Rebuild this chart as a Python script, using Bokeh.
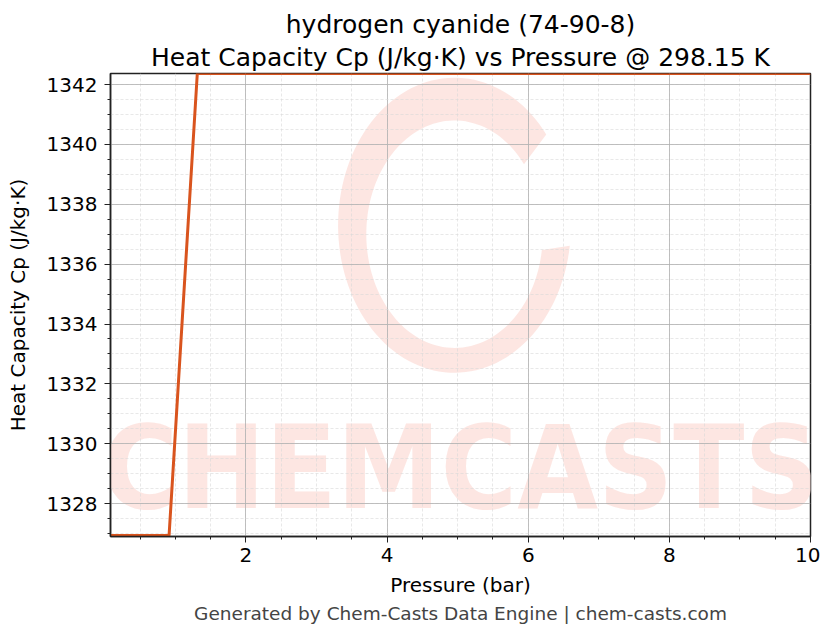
import numpy as np
from bokeh.plotting import figure
from bokeh.models import Title, Label, Range1d, SingleIntervalTicker
from bokeh.embed import file_html
from bokeh.resources import INLINE

# pressure (bar) and Cp (J/kg.K)
pressure = [0.08, 0.5, 0.91, 1.31, 2.0, 4.0, 6.0, 8.0, 10.0]
cp = [1326.93, 1326.93, 1326.93, 1342.37, 1342.37, 1342.37, 1342.37, 1342.37, 1342.37]

title_lines = ["hydrogen cyanide (74-90-8)",
               "Heat Capacity Cp (J/kg·K) vs Pressure @ 298.15 K"]
footer = "Generated by Chem-Casts Data Engine | chem-casts.com"

FONT = "DejaVu Sans"
WM = "#fde3df"

p = figure(
    width=820, height=628,
    output_backend="svg", toolbar_location=None,
    x_range=Range1d(0.08, 10.0), y_range=Range1d(1326.9, 1342.37),
    min_border_left=110, min_border_right=10,
    min_border_top=73, min_border_bottom=92,
    background_fill_color="white", border_fill_color="white",
)

# watermark: swirl ring (ellipse-shaped in screen space) + CHEMCASTS text
t = np.radians(np.linspace(38, 352, 120))
cx, cy = 4.955, 1337.3
ox, oy = 1.65, 4.93
ix, iy = 1.25, 3.8
ring_x = np.concatenate([cx + ox * np.cos(t), (cx + ix * np.cos(t))[::-1]])
ring_y = np.concatenate([cy + oy * np.sin(t), (cy - 0.3 + iy * np.sin(t))[::-1]])
ring = p.patch(ring_x, ring_y, fill_color=WM, line_color=None, fill_alpha=0.9)
ring.level = "image"

wm = Label(x=5.04, y=1326.95, text="CHEMCASTS", text_align="center",
           text_baseline="bottom", text_font="DejaVu Sans Condensed",
           text_font_style="bold", text_font_size="116px",
           text_color=WM, text_alpha=0.9, level="image")
p.add_layout(wm)

p.line(pressure, cp, line_color="#d9541e", line_width=3)

# title: second line is closest to the plot
for i, line in enumerate(reversed(title_lines)):
    p.add_layout(Title(text=line, align="center", text_font=FONT,
                       text_font_size="25px", text_font_style="normal",
                       text_color="black", standoff=0 if i else 4,
                       offset=0, text_line_height=1.0), "above")
p.add_layout(Title(text=footer, align="center", text_font=FONT,
                   text_font_size="18.5px", text_font_style="normal",
                   text_color="#444444", standoff=2), "below")

p.xaxis.axis_label = "Pressure (bar)"
p.yaxis.axis_label = "Heat Capacity Cp (J/kg·K)"
p.xaxis.ticker = SingleIntervalTicker(interval=2, num_minor_ticks=4)
p.yaxis.ticker = SingleIntervalTicker(interval=2, num_minor_ticks=4)
for ax in (p.xaxis, p.yaxis):
    ax.axis_label_text_font = FONT
    ax.axis_label_text_font_size = "20px"
    ax.axis_label_text_font_style = "normal"
    ax.axis_label_text_color = "black"
    ax.axis_label_standoff = 8
    ax.major_label_text_font = FONT
    ax.major_label_text_font_size = "20px"
    ax.major_label_text_color = "black"
    ax.major_label_standoff = 5
    ax.axis_line_width = 1.5
    ax.axis_line_color = "#222222"
    ax.major_tick_line_color = "#222222"
    ax.minor_tick_line_color = "#222222"
    ax.major_tick_out = 6
    ax.major_tick_in = 0
    ax.minor_tick_out = 3
    ax.minor_tick_in = 0
p.yaxis.axis_label_standoff = 14
p.yaxis.major_label_standoff = 7

p.grid.grid_line_color = "#b0b0b0"
p.grid.grid_line_width = 0.8
p.grid.minor_grid_line_color = "#d8d8d8"
p.grid.minor_grid_line_dash = "3 2"
p.grid.minor_grid_line_width = 0.6
p.outline_line_color = "#222222"
p.outline_line_width = 1.5

open("out.html", "w").write(file_html(p, INLINE))
